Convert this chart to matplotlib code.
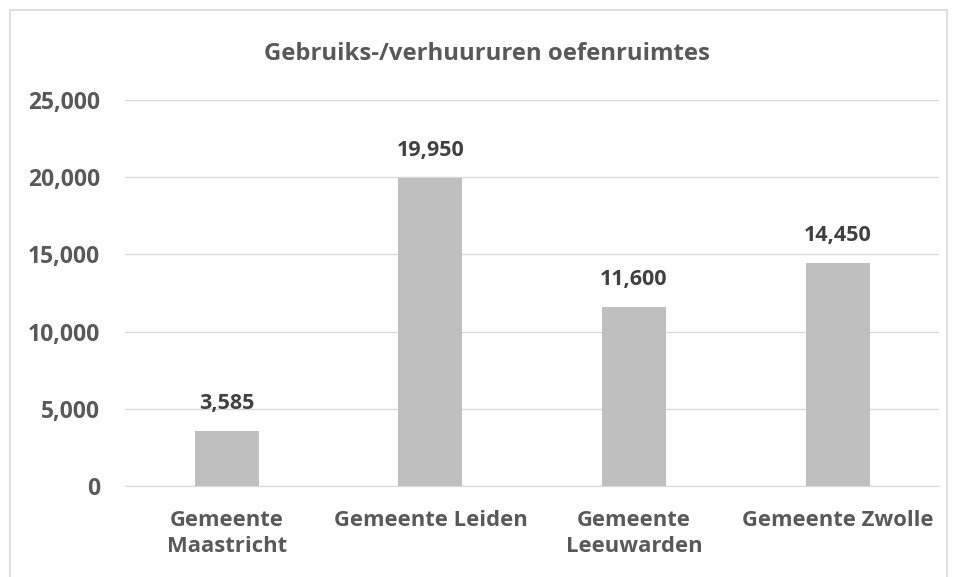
import matplotlib
matplotlib.use("Agg")
from matplotlib import pyplot as plt
from matplotlib.patches import Rectangle

plt.rcParams["font.family"] = ["Open Sans", "DejaVu Sans"]
plt.rcParams["font.weight"] = "bold"

# data
categories = ["Gemeente\nMaastricht", "Gemeente Leiden", "Gemeente\nLeeuwarden", "Gemeente Zwolle"]
values = [3585, 19950, 11600, 14450]
yticks = [0, 5000, 10000, 15000, 20000, 25000]

text_color = "#595959"

fig = plt.figure(figsize=(9.57, 5.77), dpi=100)
ax = fig.add_axes([0.1306, 0.1577, 0.851, 0.669])

# chart border
fig.patches.append(Rectangle((10 / 957, -0.05), 937 / 957, 1 - 10 / 577 + 0.05,
                             transform=fig.transFigure, fill=False,
                             edgecolor="#D9D9D9", linewidth=1.2))

x = range(len(categories))
bars = ax.bar(x, values, width=0.314, color="#BFBFBF", zorder=2)

for b, v in zip(bars, values):
    ax.text(b.get_x() + b.get_width() / 2, v + 1100, f"{v:,}",
            ha="center", va="bottom", fontsize=15.5, fontweight="bold", color="#404040")

ax.set_xlim(-0.5, len(categories) - 0.5)
ax.set_ylim(0, 25000)
ax.set_yticks(yticks)
ax.set_yticklabels([f"{t:,}" for t in yticks])
ax.set_xticks(list(x))
ax.set_xticklabels(categories, linespacing=1.35)
ax.tick_params(axis="y", length=0, labelsize=16.5, labelcolor=text_color, pad=18)
ax.tick_params(axis="x", length=0, labelsize=15.8, labelcolor=text_color, pad=17)

ax.grid(axis="y", color="#D9D9D9", linewidth=1, zorder=0)
for s in ["top", "right", "left"]:
    ax.spines[s].set_visible(False)
ax.spines["bottom"].set_color("#D9D9D9")

fig.text(487 / 957, 1 - 54 / 577, "Gebruiks-/verhuururen oefenruimtes",
         ha="center", va="center", fontsize=17.2, fontweight="bold", color=text_color)

fig.savefig("out.png", dpi=100)
